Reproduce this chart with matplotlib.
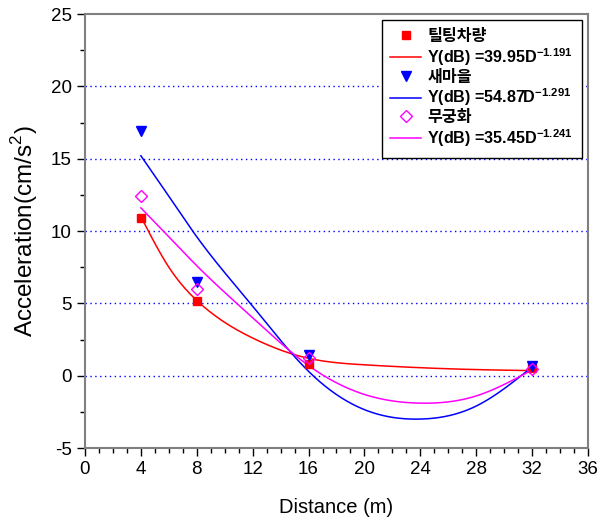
import numpy as np
import matplotlib
matplotlib.use("Agg")
import matplotlib.pyplot as plt
from matplotlib.lines import Line2D
from matplotlib.ticker import MultipleLocator

plt.rcParams['font.family'] = ['Liberation Sans', 'Noto Sans CJK KR', 'DejaVu Sans']
plt.rcParams['mathtext.fontset'] = 'custom'
plt.rcParams['mathtext.rm'] = 'Liberation Sans'
plt.rcParams['mathtext.bf'] = 'Liberation Sans:bold'
plt.rcParams['axes.unicode_minus'] = False

# measured accelerations at each distance
distance = [4, 8, 16, 32]
tilting = [10.9, 5.15, 0.8, 0.55]
saemaeul = [16.9, 6.45, 1.45, 0.65]
mugunghwa = [12.4, 6.0, 1.2, 0.45]

# fitted curve, sampled at these distances
curve_x = [4, 6, 8, 12, 16, 20, 24, 28, 32]
tilting_fit = [11.0, 7.5, 5.2, 2.6, 1.2, 0.75, 0.55, 0.42, 0.35]
saemaeul_fit = [15.2, 12.4, 9.6, 4.8, 0.3, -2.35, -3.0, -2.1, 0.6]
mugunghwa_fit = [11.6, 9.6, 7.6, 4.0, 0.7, -1.3, -1.9, -1.4, 0.4]

names = ['틸팅차량', '새마을', '무궁화']
equations = [r'Y(dB) =39.95D$^{\mathbf{-1.191}}$',
             r'Y(dB) =54.87D$^{\mathbf{-1.291}}$',
             r'Y(dB) =35.45D$^{\mathbf{-1.241}}$']


def natural_spline(x, y, num=300):
    """Smooth curve through the sampled points (natural cubic spline)."""
    x = np.asarray(x, float)
    y = np.asarray(y, float)
    n = len(x)
    h = np.diff(x)
    A = np.zeros((n, n))
    b = np.zeros(n)
    A[0, 0] = A[-1, -1] = 1
    for i in range(1, n - 1):
        A[i, i - 1] = h[i - 1]
        A[i, i] = 2 * (h[i - 1] + h[i])
        A[i, i + 1] = h[i]
        b[i] = 6 * ((y[i + 1] - y[i]) / h[i] - (y[i] - y[i - 1]) / h[i - 1])
    M = np.linalg.solve(A, b)
    xs = np.linspace(x[0], x[-1], num)
    idx = np.clip(np.searchsorted(x, xs) - 1, 0, n - 2)
    x0, x1 = x[idx], x[idx + 1]
    hh = x1 - x0
    t0 = x1 - xs
    t1 = xs - x0
    ys = ((M[idx] * t0 ** 3 + M[idx + 1] * t1 ** 3) / (6 * hh)
          + (y[idx] / hh - M[idx] * hh / 6) * t0
          + (y[idx + 1] / hh - M[idx + 1] * hh / 6) * t1)
    return xs, ys


fig = plt.figure(figsize=(5.99, 5.23), dpi=100)
ax = fig.add_axes([0.1419, 0.1434, 0.8397, 0.8298])

for y in [0, 5, 10, 15, 20]:
    ax.axhline(y, color='#0000ff', linestyle=(0, (1, 2.5)), linewidth=1.0, zorder=1)

colors = ['#ff0000', '#0000ff', '#ff00ff']
fits = [tilting_fit, saemaeul_fit, mugunghwa_fit]
for fit, c in zip(fits, colors):
    xs, ys = natural_spline(curve_x, fit)
    ax.plot(xs, ys, color=c, linewidth=1.1, zorder=2)

ax.plot(distance, tilting, 's', color='#ff0000', markersize=6, zorder=3)
ax.plot(distance, saemaeul, 'v', color='#0000ff', markersize=7.5, zorder=3)
ax.plot(distance, mugunghwa, 'D', color='#ff00ff', markerfacecolor='none',
        markeredgewidth=1.0, markersize=6.5, zorder=4)

ax.set_xlim(0, 36)
ax.set_ylim(-5, 25)
ax.xaxis.set_major_locator(MultipleLocator(4))
ax.xaxis.set_minor_locator(MultipleLocator(1))
ax.yaxis.set_major_locator(MultipleLocator(5))
ax.yaxis.set_minor_locator(MultipleLocator(2.5))
ax.tick_params(which='major', direction='out', length=6, width=1.0, labelsize=13.5, colors='black')
ax.tick_params(which='minor', direction='out', length=3.5, width=1.0)
for s in ax.spines.values():
    s.set_color('#808080')
    s.set_linewidth(1.5)

ax.set_xlabel('Distance (m)', fontsize=14.5, labelpad=14)
ax.set_ylabel('Acceleration(cm/s$^2$)', fontsize=17.5, labelpad=8)

handles = []
labels = []
markers = [dict(marker='s', markersize=6, markerfacecolor='#ff0000'),
           dict(marker='v', markersize=7.5, markerfacecolor='#0000ff'),
           dict(marker='D', markersize=6.5, markerfacecolor='none', markeredgewidth=1.0)]
for name, eq, c, mk in zip(names, equations, colors, markers):
    handles.append(Line2D([], [], linestyle='none', color=c, **mk))
    labels.append(name)
    handles.append(Line2D([], [], color=c, linewidth=1.1))
    labels.append(eq)

leg = ax.legend(handles, labels, loc='upper right', bbox_to_anchor=(0.988, 0.986),
                borderaxespad=0, fancybox=False, framealpha=1, edgecolor='black',
                handlelength=1.9, handletextpad=0.4, labelspacing=0.12, borderpad=0.55,
                prop={'weight': 'bold', 'size': 11.6})
leg.get_frame().set_linewidth(1.0)

fig.savefig('out.png', dpi=100)
